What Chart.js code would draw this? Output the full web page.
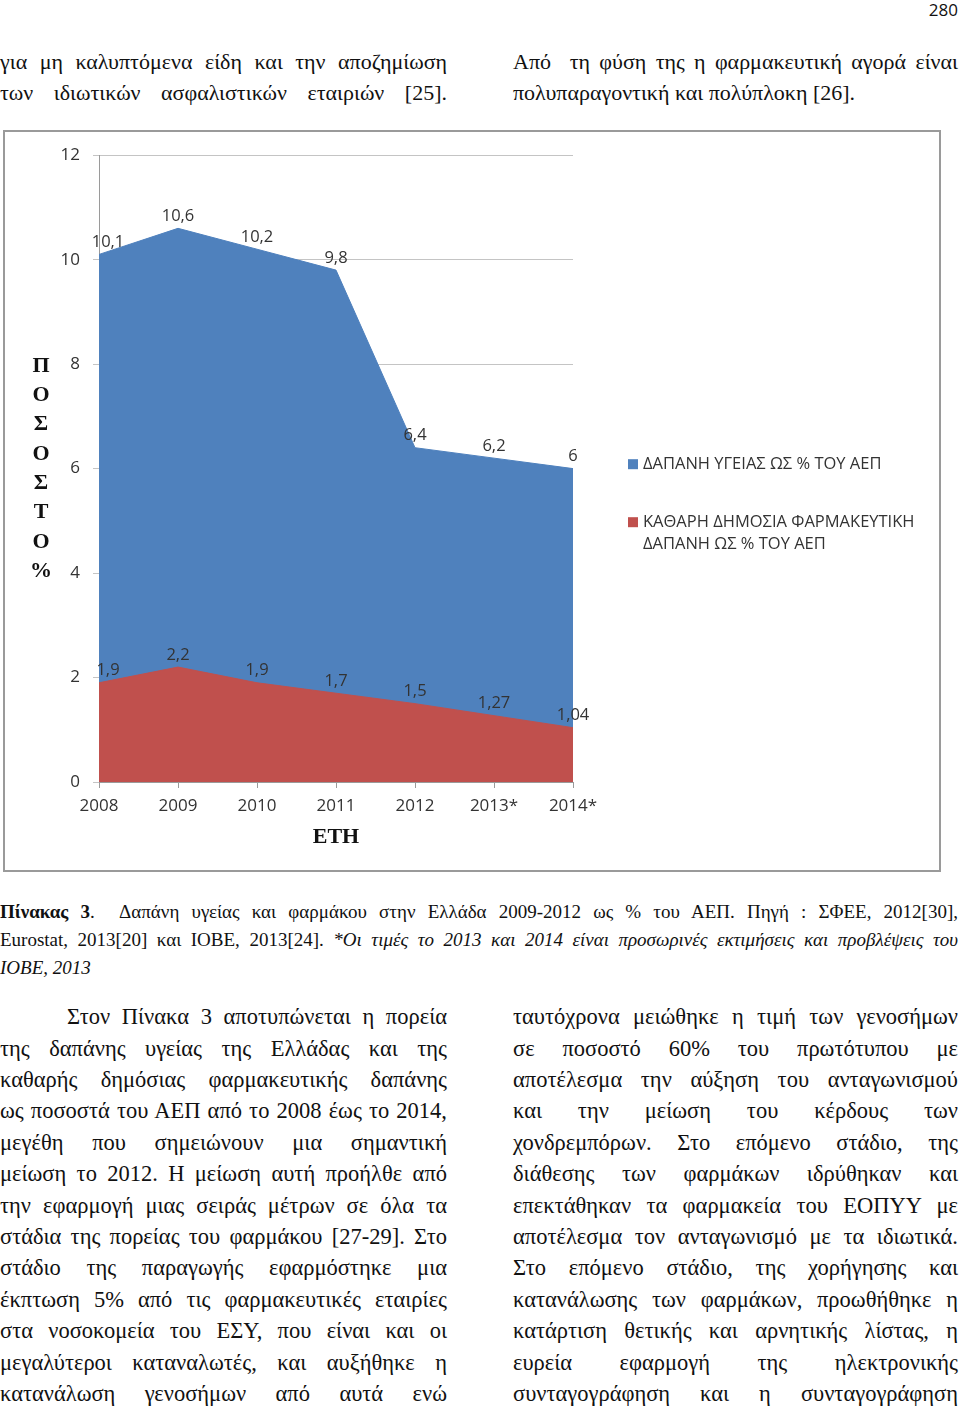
<!DOCTYPE html>
<html lang="el">
<head>
<meta charset="utf-8">
<title>Πίνακας 3</title>
<script src="https://cdn.jsdelivr.net/npm/chart.js@4.4.1/dist/chart.umd.min.js"></script>
<style>
  html, body { margin: 0; padding: 0; background: #fff; }
  body { width: 960px; height: 1408px; position: relative; overflow: hidden; color: #111;
         font-family: 'Liberation Serif', 'Times New Roman', serif; }
  .pageno { position: absolute; right: 2px; top: 0; font: 17px 'Open Sans', sans-serif; line-height: 20px; }
  .col { position: absolute; }
  .col div { text-align: justify; text-align-last: justify; white-space: nowrap; }
  .col div.end { text-align-last: left; }
  .top div { font-size: 22px; height: 31px; line-height: 31px; }
  .body div { font-size: 22.5px; height: 31.4px; line-height: 31.4px; }
  .cap div { font-size: 19px; height: 28px; line-height: 28px; }
  #box { position: absolute; left: 3px; top: 130px; width: 934px; height: 738px; border: 2px solid #9a9a9a; }
  #box canvas { display: block; }
</style>
</head>
<body>
<div class="pageno">280</div>

<div class="col top" style="left:0; top:45.5px; width:447px;">
  <div>για μη καλυπτόμενα είδη και την αποζημίωση</div>
  <div>των ιδιωτικών ασφαλιστικών εταιριών [25].</div>
</div>
<div class="col top" style="left:513px; top:45.5px; width:445px;">
  <div>Από &nbsp;τη φύση της η φαρμακευτική αγορά είναι</div>
  <div class="end">πολυπαραγοντική και πολύπλοκη [26].</div>
</div>

<div id="box"><canvas id="myChart" width="934" height="738"></canvas></div>

<div class="col cap" style="left:0; top:898px; width:958px;">
  <div><b>Πίνακας 3</b>. &nbsp;Δαπάνη υγείας και φαρμάκου στην Ελλάδα 2009-2012 ως % του ΑΕΠ. Πηγή : ΣΦΕΕ, 2012[30],</div>
  <div>Eurostat, 2013[20] και ΙΟΒΕ, 2013[24]. <i>*Οι τιμές το 2013 και 2014 είναι προσωρινές εκτιμήσεις και προβλέψεις του</i></div>
  <div class="end"><i>ΙΟΒΕ, 2013</i></div>
</div>

<div class="col body" style="left:0; top:1001.3px; width:447px;">
  <div style="padding-left:67px;">Στον Πίνακα 3 αποτυπώνεται η πορεία</div>
  <div>της δαπάνης υγείας της Ελλάδας και της</div>
  <div>καθαρής δημόσιας φαρμακευτικής δαπάνης</div>
  <div>ως ποσοστά του ΑΕΠ από το 2008 έως το 2014,</div>
  <div>μεγέθη που σημειώνουν μια σημαντική</div>
  <div>μείωση το 2012. Η μείωση αυτή προήλθε από</div>
  <div>την εφαρμογή μιας σειράς μέτρων σε όλα τα</div>
  <div>στάδια της πορείας του φαρμάκου [27-29]. Στο</div>
  <div>στάδιο της παραγωγής εφαρμόστηκε μια</div>
  <div>έκπτωση 5% από τις φαρμακευτικές εταιρίες</div>
  <div>στα νοσοκομεία του ΕΣΥ, που είναι και οι</div>
  <div>μεγαλύτεροι καταναλωτές, και αυξήθηκε η</div>
  <div>κατανάλωση γενοσήμων από αυτά ενώ</div>
</div>
<div class="col body" style="left:513px; top:1001.3px; width:445px;">
  <div>ταυτόχρονα μειώθηκε η τιμή των γενοσήμων</div>
  <div>σε ποσοστό 60% του πρωτότυπου με</div>
  <div>αποτέλεσμα την αύξηση του ανταγωνισμού</div>
  <div>και την μείωση του κέρδους των</div>
  <div>χονδρεμπόρων. Στο επόμενο στάδιο, της</div>
  <div>διάθεσης των φαρμάκων ιδρύθηκαν και</div>
  <div>επεκτάθηκαν τα φαρμακεία του ΕΟΠΥΥ με</div>
  <div>αποτέλεσμα τον ανταγωνισμό με τα ιδιωτικά.</div>
  <div>Στο επόμενο στάδιο, της χορήγησης και</div>
  <div>κατανάλωσης των φαρμάκων, προωθήθηκε η</div>
  <div>κατάρτιση θετικής και αρνητικής λίστας, η</div>
  <div>ευρεία εφαρμογή της ηλεκτρονικής</div>
  <div>συνταγογράφηση και η συνταγογράφηση</div>
</div>

<script>
// data
const years = ['2008', '2009', '2010', '2011', '2012', '2013*', '2014*'];
const healthSpend = [10.1, 10.6, 10.2, 9.8, 6.4, 6.2, 6];
const pharmaSpend = [1.9, 2.2, 1.9, 1.7, 1.5, 1.27, 1.04];
const healthName = ['ΔΑΠΑΝΗ ΥΓΕΙΑΣ ΩΣ % ΤΟΥ ΑΕΠ'];
const pharmaName = ['ΚΑΘΑΡΗ ΔΗΜΟΣΙΑ ΦΑΡΜΑΚΕΥΤΙΚΗ', 'ΔΑΠΑΝΗ ΩΣ % ΤΟΥ ΑΕΠ'];
const yTicks = [0, 2, 4, 6, 8, 10, 12];
const yTitle = ['Π', 'Ο', 'Σ', 'Ο', 'Σ', 'Τ', 'Ο', '%'];
const xTitle = 'ΕΤΗ';

const BLUE = '#4f81bd';
const RED = '#c0504d';
const INK = '#333';
const sans = "'Open Sans', sans-serif";
const serif = "'Liberation Serif', serif";

Chart.defaults.font.family = sans;

// numbers above each point, Greek decimal comma
const valueLabels = {
  id: 'valueLabels',
  afterDatasetsDraw(chart) {
    const ctx = chart.ctx;
    ctx.save();
    ctx.font = '16.5px ' + sans;
    ctx.fillStyle = INK;
    ctx.textAlign = 'center';
    ctx.textBaseline = 'bottom';
    chart.data.datasets.forEach((ds, di) => {
      chart.getDatasetMeta(di).data.forEach((pt, i) => {
        const txt = String(ds.data[i]).replace('.', ',');
        ctx.fillText(txt, pt.x + (i === 0 ? 9 : 0), pt.y - 4);
      });
    });
    ctx.restore();
  }
};

// legend on the right, blue first
const sideLegend = {
  id: 'sideLegend',
  afterDraw(chart) {
    const ctx = chart.ctx;
    const x = chart.chartArea.right + 55;
    const rows = [chart.data.datasets[0], chart.data.datasets[1]];
    let y = chart.chartArea.top + 309;
    ctx.save();
    ctx.font = '16.5px ' + sans;
    ctx.textBaseline = 'middle';
    ctx.textAlign = 'left';
    rows.forEach(ds => {
      ctx.fillStyle = ds.backgroundColor;
      ctx.fillRect(x, y - 5, 10, 10);
      ctx.fillStyle = INK;
      ds.lines.forEach((line, k) => ctx.fillText(line, x + 15, y + k * 22));
      y += 58;
    });
    ctx.restore();
  }
};

// stacked letters of the y axis title
const stackedTitle = {
  id: 'stackedTitle',
  afterDraw(chart) {
    const ctx = chart.ctx;
    const mid = (chart.chartArea.top + chart.chartArea.bottom) / 2;
    const step = 29.3;
    const y0 = mid - step * (yTitle.length - 1) / 2;
    ctx.save();
    ctx.font = 'bold 22px ' + serif;
    ctx.fillStyle = '#111';
    ctx.textAlign = 'center';
    ctx.textBaseline = 'middle';
    yTitle.forEach((ch, i) => ctx.fillText(ch, 36, y0 + i * step));
    ctx.restore();
  }
};

const ctx = document.getElementById('myChart');

new Chart(ctx, {
  type: 'line',
  data: {
    labels: years,
    datasets: [{
      label: healthName.join(' '),
      lines: healthName,
      data: healthSpend,
      fill: 'origin',
      backgroundColor: BLUE,
      borderColor: BLUE,
      borderWidth: 1,
      pointRadius: 0,
      tension: 0,
      order: 2
    }, {
      label: pharmaName.join(' '),
      lines: pharmaName,
      data: pharmaSpend,
      fill: 'origin',
      backgroundColor: RED,
      borderColor: RED,
      borderWidth: 1,
      pointRadius: 0,
      tension: 0,
      order: 1
    }]
  },
  options: {
    responsive: false,
    animation: false,
    layout: { padding: { left: 0, top: 20, right: 366, bottom: 0 } },
    plugins: {
      legend: { display: false },
      tooltip: { enabled: false }
    },
    scales: {
      x: {
        offset: false,
        grid: { drawOnChartArea: false, drawTicks: true, tickLength: 6, color: '#9a9a9a' },
        border: { color: '#9a9a9a' },
        ticks: { padding: 8, color: INK, font: { size: 17 }, maxRotation: 0 },
        title: {
          display: true,
          text: xTitle,
          color: '#111',
          font: { family: serif, weight: 'bold', size: 22 },
          padding: { top: 4, bottom: 19 }
        },
        afterFit: s => { s.height = 88; }
      },
      y: {
        min: 0,
        max: 12,
        afterBuildTicks: s => { s.ticks = yTicks.map(v => ({ value: v })); },
        ticks: { padding: 13, color: INK, font: { size: 17 } },
        grid: { color: '#c4c4c4', tickLength: 6 },
        border: { color: '#9a9a9a' },
        afterFit: s => { s.width = 94; }
      }
    }
  },
  plugins: [valueLabels, sideLegend, stackedTitle]
});
</script>
</body>
</html>
